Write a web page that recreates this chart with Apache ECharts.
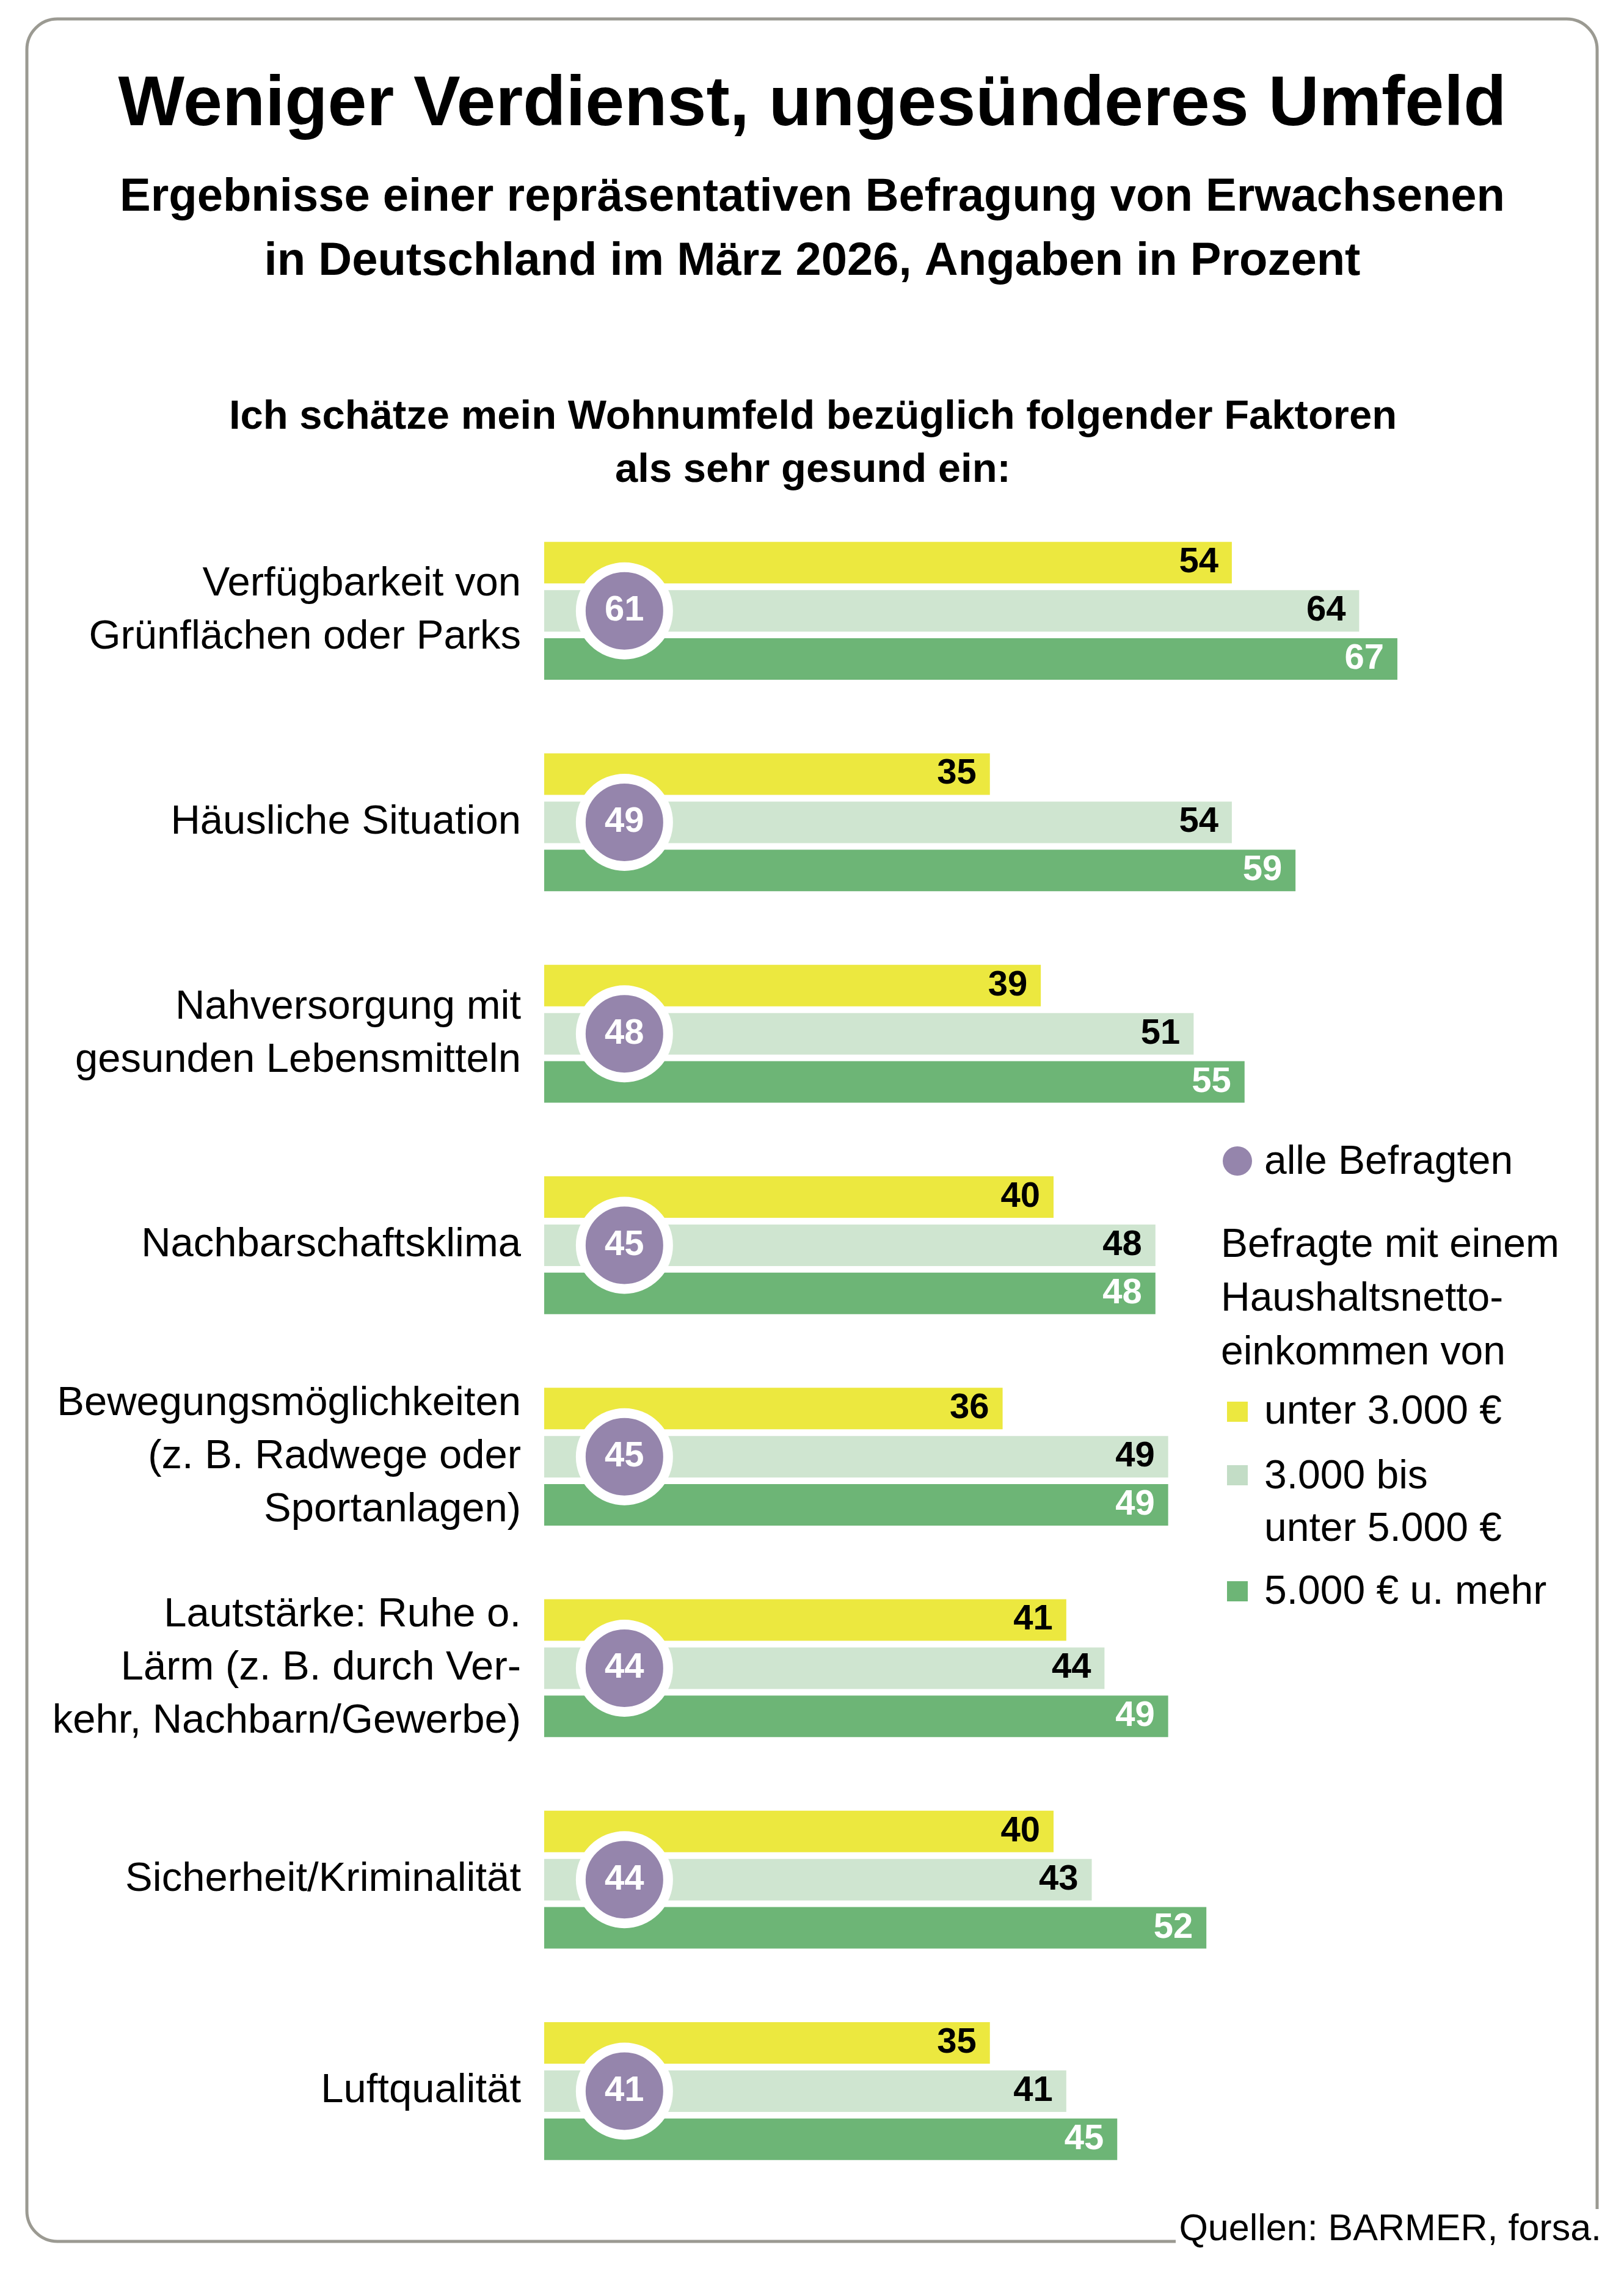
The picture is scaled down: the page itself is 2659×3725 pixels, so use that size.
<!DOCTYPE html>
<html>
<head>
<meta charset="utf-8">
<script src="https://cdn.jsdelivr.net/npm/echarts@6/dist/echarts.min.js"></script>
<style>
  html, body { margin: 0; padding: 0; background: #fff; }
  #chart { width: 2659px; height: 3725px; }
</style>
</head>
<body>
<div id="chart"></div>
<script>
// Daten
const categories = [
    'Verfügbarkeit von\nGrünflächen oder Parks',
    'Häusliche Situation',
    'Nahversorgung mit\ngesunden Lebensmitteln',
    'Nachbarschaftsklima',
    'Bewegungsmöglichkeiten\n(z. B. Radwege oder\nSportanlagen)',
    'Lautstärke: Ruhe o.\nLärm (z. B. durch Ver-\nkehr, Nachbarn/Gewerbe)',
    'Sicherheit/Kriminalität',
    'Luftqualität'
];
const unter3000 = [54, 35, 39, 40, 36, 41, 40, 35];
const von3000bis5000 = [64, 54, 51, 48, 49, 44, 43, 41];
const ab5000 = [67, 59, 55, 48, 49, 49, 52, 45];
const alleBefragten = [61, 49, 48, 45, 45, 44, 44, 41];
const seriesNames = ['unter 3.000 €', '3.000 bis unter 5.000 €', '5.000 € u. mehr', 'alle Befragten'];

const colors = ['#ece83f', '#cfe5d0', '#6db576', '#9585ac'];
const FONT = '"Liberation Sans", Arial, Helvetica, sans-serif';
const badgeX = 6.3; // Spalte für die Kreise (Achseneinheiten)

let chart = echarts.init(document.getElementById('chart'), null, {renderer: 'canvas'});

const barLabel = (color) => ({
    show: true,
    position: 'insideRight',
    distance: 22,
    color: color,
    fontFamily: FONT,
    fontWeight: 'bold',
    fontSize: 58
});

const txt = (text, x, y, size, opts) => ({
    type: 'text',
    x: x,
    y: y,
    z: 10,
    style: Object.assign({
        text: text,
        font: size + 'px ' + FONT,
        fill: '#000',
        textAlign: 'left',
        textVerticalAlign: 'middle'
    }, opts || {})
});

chart.setOption({
    animation: false,
    backgroundColor: '#fff',
    grid: {
        left: 891,
        top: 827,
        width: 1668,
        height: 2770,
        containLabel: false
    },
    xAxis: {
        type: 'value',
        min: 0,
        max: 80,
        show: false
    },
    yAxis: {
        type: 'category',
        inverse: true,
        data: categories,
        axisLine: {show: false},
        axisTick: {show: false},
        splitLine: {show: false},
        axisLabel: {
            margin: 38,
            color: '#000',
            fontFamily: FONT,
            fontSize: 67,
            lineHeight: 87,
            align: 'right'
        }
    },
    graphic: [
        // Rahmen, unten rechts offen für die Quellenangabe
        {type: 'rect', z: 1, shape: {x: 44, y: 31, width: 2571, height: 3639, r: 50},
            style: {fill: null, stroke: '#9b9a92', lineWidth: 5}},
        {type: 'rect', z: 2, shape: {x: 1925, y: 3617, width: 734, height: 80},
            style: {fill: '#fff'}},
        txt('Weniger Verdienst, ungesünderes Umfeld', 1330, 173, 115,
            {textAlign: 'center', font: 'bold 115px ' + FONT}),
        txt('Ergebnisse einer repräsentativen Befragung von Erwachsenen\nin Deutschland im März 2026, Angaben in Prozent',
            1330, 377, 76, {textAlign: 'center', font: 'bold 76px ' + FONT, lineHeight: 105}),
        txt('Ich schätze mein Wohnumfeld bezüglich folgender Faktoren\nals sehr gesund ein:',
            1331, 727, 67, {textAlign: 'center', font: 'bold 67px ' + FONT, lineHeight: 87}),

        // Legende
        {type: 'circle', z: 10, shape: {cx: 2026, cy: 1901, r: 24}, style: {fill: colors[3]}},
        txt('alle Befragten', 2070, 1904, 66),
        txt('Befragte mit einem\nHaushaltsnetto-\neinkommen von', 1999, 2128, 66, {lineHeight: 88}),
        {type: 'rect', z: 10, shape: {x: 2009, y: 2295, width: 34, height: 33}, style: {fill: colors[0]}},
        txt('unter 3.000 €', 2070, 2313, 66),
        {type: 'rect', z: 10, shape: {x: 2009, y: 2399, width: 34, height: 33}, style: {fill: '#c3ddc6'}},
        txt('3.000 bis\nunter 5.000 €', 2070, 2462, 66, {lineHeight: 86}),
        {type: 'rect', z: 10, shape: {x: 2009, y: 2589, width: 34, height: 33}, style: {fill: colors[2]}},
        txt('5.000 € u. mehr', 2070, 2608, 66),

        txt('Quellen: BARMER, forsa.', 2622, 3651, 61, {textAlign: 'right'})
    ],
    series: [
        {
            name: seriesNames[0],
            type: 'bar',
            data: unter3000,
            barWidth: 68,
            barGap: '16%',
            itemStyle: {color: colors[0]},
            label: barLabel('#000')
        },
        {
            name: seriesNames[1],
            type: 'bar',
            data: von3000bis5000,
            barWidth: 68,
            barGap: '16%',
            itemStyle: {color: colors[1]},
            label: barLabel('#000')
        },
        {
            name: seriesNames[2],
            type: 'bar',
            data: ab5000,
            barWidth: 68,
            barGap: '16%',
            itemStyle: {color: colors[2]},
            label: barLabel('#fff')
        },
        {
            name: seriesNames[3],
            type: 'scatter',
            z: 5,
            data: alleBefragten.map((v, i) => [badgeX, i, v]),
            encode: {x: 0, y: 1},
            symbol: 'circle',
            symbolSize: 143,
            itemStyle: {color: colors[3], borderColor: '#fff', borderWidth: 16, opacity: 1},
            label: {
                show: true,
                position: 'inside',
                formatter: (p) => p.value[2],
                color: '#fff',
                fontFamily: FONT,
                fontWeight: 'bold',
                fontSize: 58
            }
        }
    ]
});
</script>
</body>
</html>
